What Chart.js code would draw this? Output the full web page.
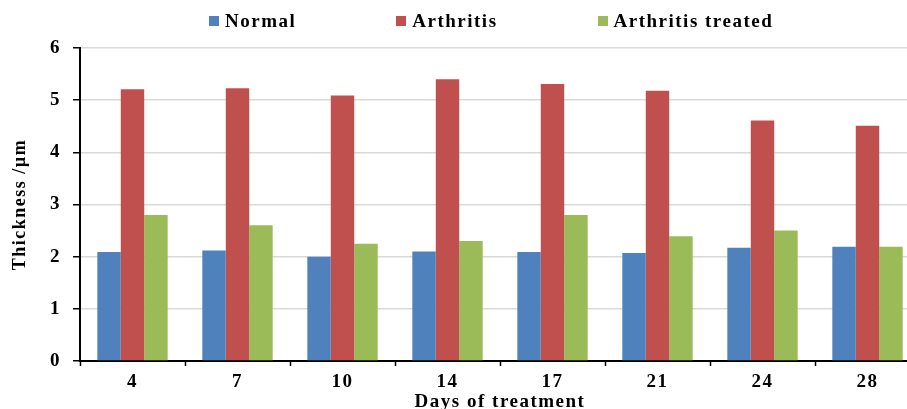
<!DOCTYPE html>
<html>
<head>
    <meta charset="utf-8">
    <title>Thickness by days of treatment</title>
    <script src="https://cdn.jsdelivr.net/npm/chart.js"></script>
    <style>
        html, body { margin: 0; padding: 0; background: #fff; overflow: hidden; }
        #wrap { position: relative; width: 920px; height: 409px; overflow: hidden; }
        #legend {
            position: absolute; top: 10px; left: 209px;
            display: flex; gap: 100px;
            font: bold 19px "Liberation Serif", "Times New Roman", serif; color: #000;
            letter-spacing: 1.5px;
        }
        #legend span.item { display: flex; align-items: center; }
        #legend span.box { display: inline-block; width: 10px; height: 10px; margin-right: 6px; }
    </style>
</head>
<body>
    <div id="wrap">
        <canvas id="thicknessChart" width="920" height="413"></canvas>
        <div id="legend"></div>
    </div>

    <script>
        // values
        const days = ['4', '7', '10', '14', '17', '21', '24', '28'];
        const normal = [2.09, 2.12, 2.00, 2.10, 2.09, 2.07, 2.17, 2.19];
        const arthritis = [5.21, 5.23, 5.09, 5.40, 5.31, 5.18, 4.61, 4.51];
        const treated = [2.80, 2.60, 2.25, 2.30, 2.80, 2.39, 2.50, 2.19];

        const serif = '"Liberation Serif", "Times New Roman", serif';
        const tickFont = { family: serif, size: 19, weight: 'bold' };

        const datasets = [
            { label: 'Normal', data: normal, backgroundColor: '#4F81BD' },
            { label: 'Arthritis', data: arthritis, backgroundColor: '#C0504D' },
            { label: 'Arthritis treated', data: treated, backgroundColor: '#9BBB59' }
        ];
        datasets.forEach(ds => {
            ds.categoryPercentage = 0.67;
            ds.barPercentage = 1.0;
            ds.borderWidth = 0;
        });

        // legend as html above the canvas
        const legend = document.getElementById('legend');
        datasets.forEach(ds => {
            const item = document.createElement('span');
            item.className = 'item';
            const box = document.createElement('span');
            box.className = 'box';
            box.style.background = ds.backgroundColor;
            item.appendChild(box);
            item.appendChild(document.createTextNode(ds.label));
            legend.appendChild(item);
        });

        // the original text is set a little wide
        const wideText = {
            id: 'wideText',
            beforeLayout: chart => { chart.ctx.letterSpacing = '1.5px'; },
            beforeDraw: chart => { chart.ctx.letterSpacing = '1.5px'; }
        };

        const ctx = document.getElementById('thicknessChart').getContext('2d');
        new Chart(ctx, {
            type: 'bar',
            data: {
                labels: days,
                datasets: datasets
            },
            plugins: [wideText],
            options: {
                responsive: false,
                animation: false,
                layout: { padding: { top: 48, right: 0, bottom: 0, left: 0 } },
                plugins: {
                    legend: { display: false },
                    tooltip: { enabled: false }
                },
                scales: {
                    x: {
                        grid: { offset: true, drawOnChartArea: false, tickLength: 5, tickColor: '#000', tickWidth: 1.5 },
                        border: { color: '#000', width: 2 },
                        ticks: { color: '#000', font: tickFont, padding: 5 },
                        title: { display: true, text: 'Days of treatment', color: '#000', font: tickFont, padding: 0 },
                        afterFit: s => { s.height = 52; }
                    },
                    y: {
                        min: 0,
                        max: 6,
                        ticks: { stepSize: 1, color: '#000', font: tickFont, padding: 12 },
                        grid: { color: '#d9d9d9', tickColor: '#000', tickLength: 7, lineWidth: 1.5 },
                        border: { color: '#000', width: 2 },
                        title: {
                            display: true, text: 'Thickness /µm', color: '#000',
                            font: { family: serif, size: 18, weight: 'bold' },
                            padding: { top: 10, bottom: 0 }
                        },
                        afterFit: s => { s.width = 80; }
                    }
                }
            }
        });
    </script>
</body>
</html>
